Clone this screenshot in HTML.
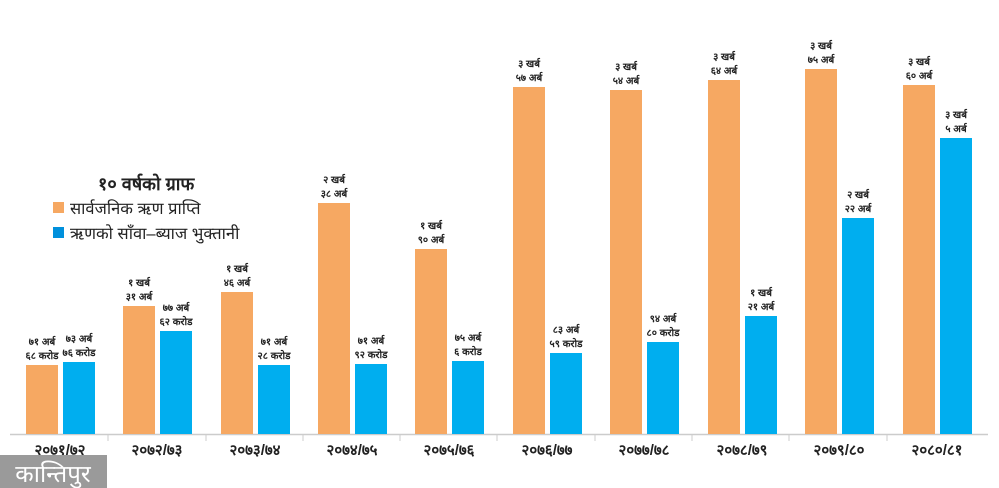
<!DOCTYPE html>
<html><head><meta charset="utf-8"><style>
html,body{margin:0;padding:0;background:#fff;width:999px;height:488px;overflow:hidden}
svg{display:block}
text{font-family:"Liberation Sans","DejaVu Sans",sans-serif;fill:#222}
.l{font-size:10px;font-weight:bold;text-anchor:middle}
.y{font-size:15px;font-weight:bold;text-anchor:middle}
</style></head><body>
<svg width="999" height="488" viewBox="0 0 999 488" xmlns="http://www.w3.org/2000/svg">
<rect width="999" height="488" fill="#fff"/>
<line x1="10" y1="434.5" x2="988" y2="434.5" stroke="#ccc" stroke-width="1.5"/>
<g stroke="#ccc" stroke-width="1">
<line x1="108" y1="434" x2="108" y2="441"/><line x1="206" y1="434" x2="206" y2="441"/><line x1="303" y1="434" x2="303" y2="441"/><line x1="400" y1="434" x2="400" y2="441"/><line x1="497" y1="434" x2="497" y2="441"/><line x1="595" y1="434" x2="595" y2="441"/><line x1="692" y1="434" x2="692" y2="441"/><line x1="789" y1="434" x2="789" y2="441"/><line x1="887" y1="434" x2="887" y2="441"/>
</g>
<rect x="26" y="365" width="32" height="69" fill="#f6a862"/><rect x="63" y="362" width="32" height="72" fill="#00aeef"/>
<rect x="123" y="306" width="32" height="128" fill="#f6a862"/><rect x="160" y="331" width="32" height="103" fill="#00aeef"/>
<rect x="221" y="292" width="32" height="142" fill="#f6a862"/><rect x="258" y="365" width="32" height="69" fill="#00aeef"/>
<rect x="318" y="203" width="32" height="231" fill="#f6a862"/><rect x="355" y="364" width="32" height="70" fill="#00aeef"/>
<rect x="415" y="249" width="32" height="185" fill="#f6a862"/><rect x="452" y="361" width="32" height="73" fill="#00aeef"/>
<rect x="513" y="87" width="32" height="347" fill="#f6a862"/><rect x="550" y="353" width="32" height="81" fill="#00aeef"/>
<rect x="610" y="90" width="32" height="344" fill="#f6a862"/><rect x="647" y="342" width="32" height="92" fill="#00aeef"/>
<rect x="708" y="80" width="32" height="354" fill="#f6a862"/><rect x="745" y="316" width="32" height="118" fill="#00aeef"/>
<rect x="805" y="69" width="32" height="365" fill="#f6a862"/><rect x="842" y="218" width="32" height="216" fill="#00aeef"/>
<rect x="903" y="85" width="32" height="349" fill="#f6a862"/><rect x="940" y="138" width="32" height="296" fill="#00aeef"/>
<g>
<text class="l" x="42" y="345">७१ अर्ब</text><text class="l" x="42" y="359">६८ करोड</text>
<text class="l" x="79" y="342">७३ अर्ब</text><text class="l" x="79" y="356">७६ करोड</text>
<text class="l" x="139" y="286">१ खर्ब</text><text class="l" x="139" y="300">३१ अर्ब</text>
<text class="l" x="176" y="311">७७ अर्ब</text><text class="l" x="176" y="325">६२ करोड</text>
<text class="l" x="237" y="272">१ खर्ब</text><text class="l" x="237" y="286">४६ अर्ब</text>
<text class="l" x="274" y="345">७१ अर्ब</text><text class="l" x="274" y="359">२८ करोड</text>
<text class="l" x="334" y="183">२ खर्ब</text><text class="l" x="334" y="197">३८ अर्ब</text>
<text class="l" x="371" y="344">७१ अर्ब</text><text class="l" x="371" y="358">९२ करोड</text>
<text class="l" x="431" y="229">१ खर्ब</text><text class="l" x="431" y="243">९० अर्ब</text>
<text class="l" x="468" y="341">७५ अर्ब</text><text class="l" x="468" y="355">६ करोड</text>
<text class="l" x="529" y="67">३ खर्ब</text><text class="l" x="529" y="81">५७ अर्ब</text>
<text class="l" x="566" y="333">८३ अर्ब</text><text class="l" x="566" y="347">५९ करोड</text>
<text class="l" x="626" y="70">३ खर्ब</text><text class="l" x="626" y="84">५४ अर्ब</text>
<text class="l" x="663" y="322">९४ अर्ब</text><text class="l" x="663" y="336">८० करोड</text>
<text class="l" x="724" y="60">३ खर्ब</text><text class="l" x="724" y="74">६४ अर्ब</text>
<text class="l" x="761" y="296">१ खर्ब</text><text class="l" x="761" y="310">२१ अर्ब</text>
<text class="l" x="821" y="49">३ खर्ब</text><text class="l" x="821" y="63">७५ अर्ब</text>
<text class="l" x="858" y="198">२ खर्ब</text><text class="l" x="858" y="212">२२ अर्ब</text>
<text class="l" x="919" y="65">३ खर्ब</text><text class="l" x="919" y="79">६० अर्ब</text>
<text class="l" x="956" y="118">३ खर्ब</text><text class="l" x="956" y="132">५ अर्ब</text>
</g>
<g>
<text class="y" x="60" y="455">२०७१/७२</text>
<text class="y" x="157" y="455">२०७२/७३</text>
<text class="y" x="255" y="455">२०७३/७४</text>
<text class="y" x="352" y="455">२०७४/७५</text>
<text class="y" x="449" y="455">२०७५/७६</text>
<text class="y" x="547" y="455">२०७६/७७</text>
<text class="y" x="644" y="455">२०७७/७८</text>
<text class="y" x="742" y="455">२०७८/७९</text>
<text class="y" x="839" y="455">२०७९/८०</text>
<text class="y" x="937" y="455">२०८०/८१</text>
</g>
<text x="98" y="190" style="font-size:18px;font-weight:bold">१० वर्षको ग्राफ</text>
<rect x="53" y="202" width="11" height="11" fill="#f6a862"/>
<text x="70" y="214" style="font-size:16.5px">सार्वजनिक ऋण प्राप्ति</text>
<rect x="53" y="227" width="11" height="11" fill="#0090dc"/>
<text x="70" y="239" style="font-size:16.5px">ऋणको साँवा–ब्याज भुक्तानी</text>
<rect x="0" y="455" width="107" height="33" fill="#9a9a9a"/>
<text x="53" y="482" style="font-size:24px;fill:#fff;text-anchor:middle">कान्तिपुर</text>
</svg>
</body></html>
